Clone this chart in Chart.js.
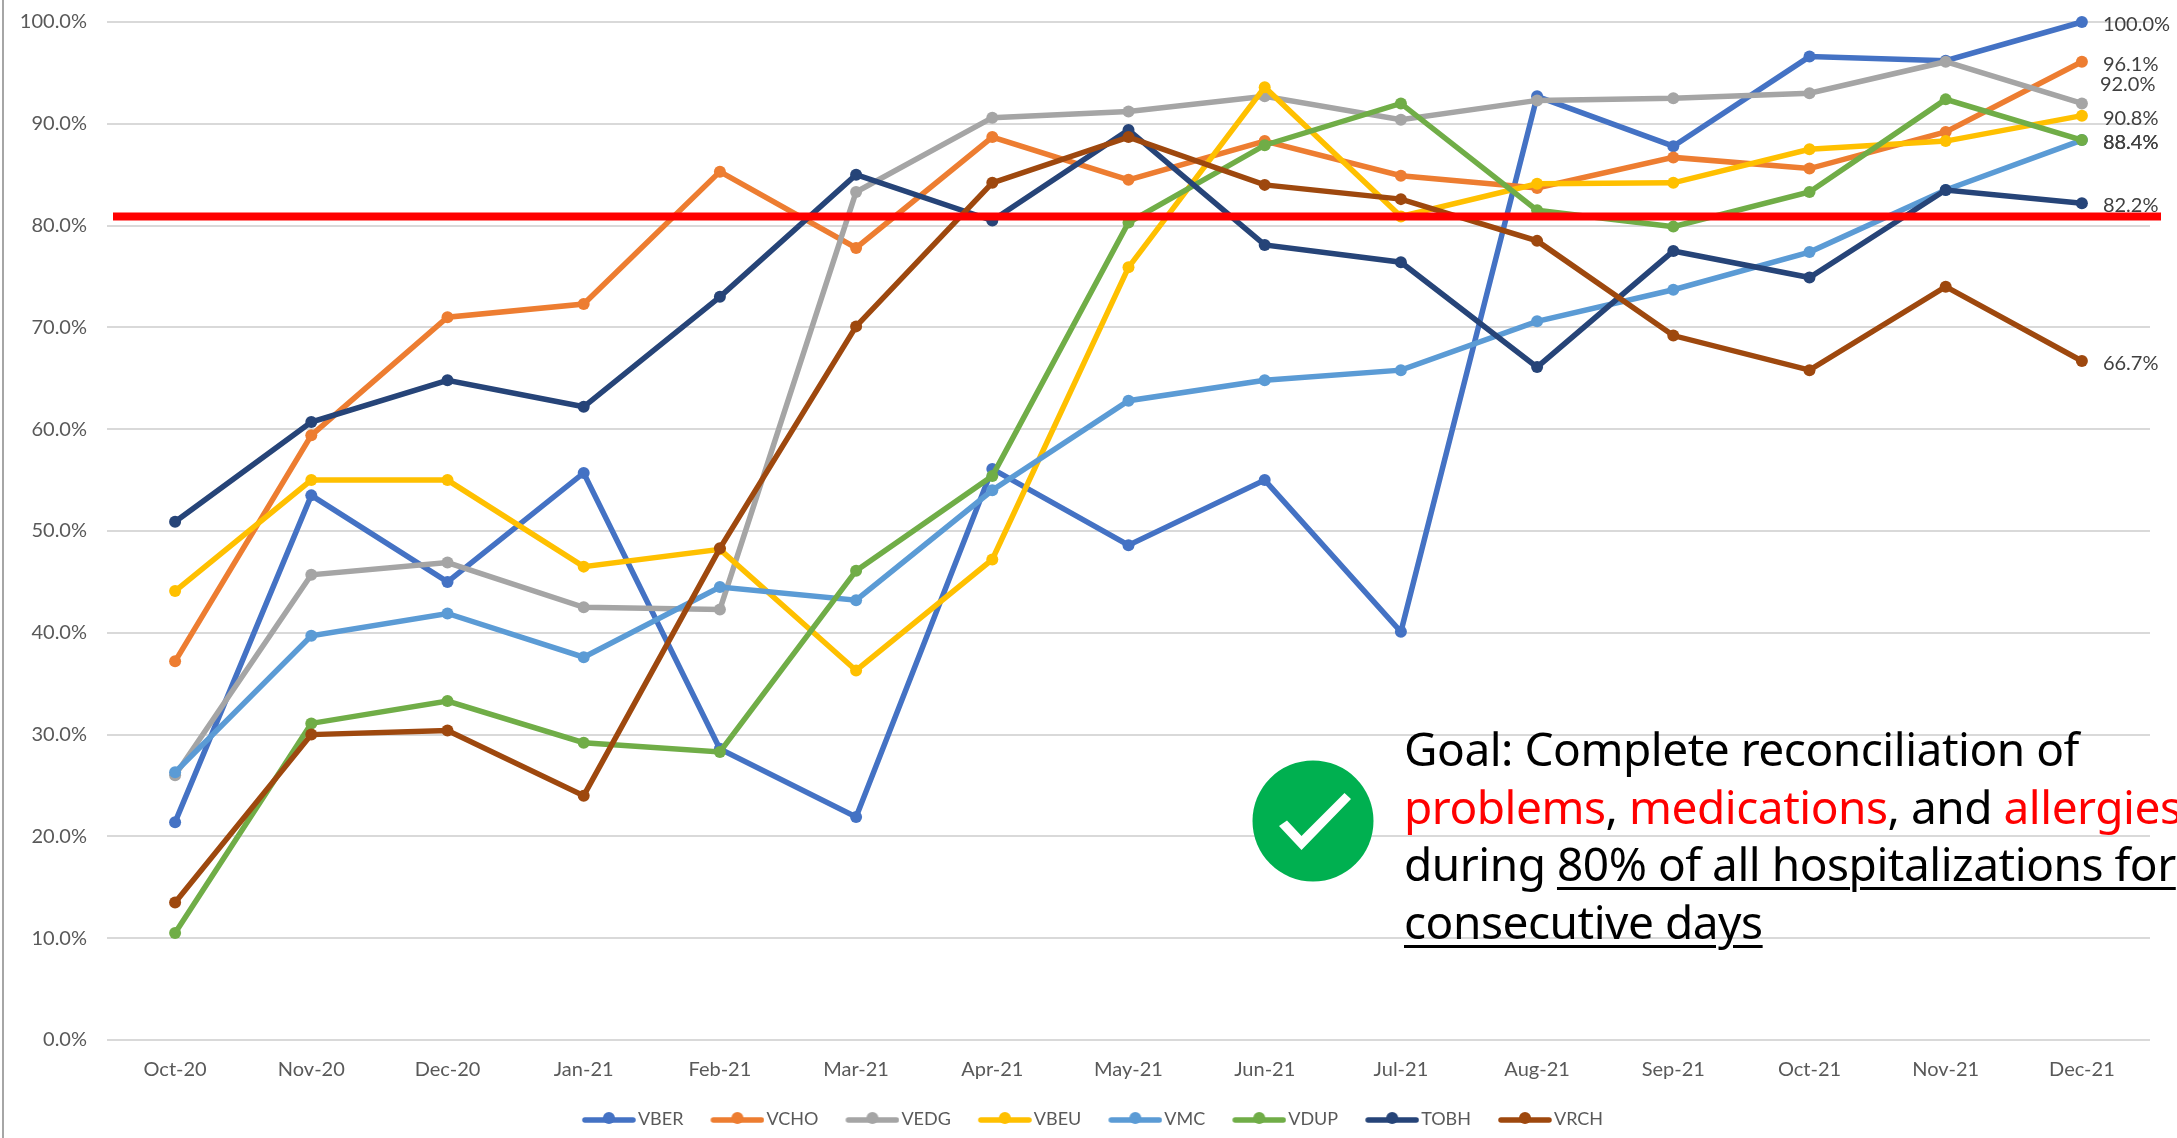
<!DOCTYPE html>
<html>
<head>
<meta charset="utf-8">
<script src="https://cdn.jsdelivr.net/npm/chart.js@4"></script>
<style>
html,body{margin:0;padding:0;background:#fff;width:2177px;height:1138px;overflow:hidden}
#wrap{position:relative;width:2177px;height:1138px;overflow:hidden}
#edge{position:absolute;left:2px;top:0;width:2px;height:1138px;background:#a6a6a6}
canvas{position:absolute;left:0;top:0}
#badge{position:absolute;left:1252px;top:760px}
#goal{position:absolute;left:1404px;top:720px;font:46px/57.6px "Noto Sans",sans-serif;letter-spacing:-0.47px;color:#000;white-space:nowrap}
#goal .r{color:#f00}
#goal .u{text-decoration:underline;text-decoration-thickness:3px;text-underline-offset:6px}
</style>
</head>
<body>
<div id="wrap">
<div id="edge"></div>
<canvas id="c" width="2177" height="1138"></canvas>
<svg id="badge" width="122" height="122" viewBox="0 0 122 122">
<circle cx="61" cy="61" r="60.5" fill="#00B050"/>
<polygon points="27,66 49.500,90 99,39 92.500,33 49.500,76 35,60.500" fill="#fff"/>
</svg>
<div id="goal">Goal: Complete reconciliation of<br><span class="r">problems</span>, <span class="r">medications</span>, and <span class="r">allergies</span><br>during <span class="u">80% of all hospitalizations for</span><br><span class="u">consecutive days</span></div>
</div>
<script>
const categories = ['Oct-20','Nov-20','Dec-20','Jan-21','Feb-21','Mar-21','Apr-21','May-21','Jun-21','Jul-21','Aug-21','Sep-21','Oct-21','Nov-21','Dec-21'];
const VBER = [21.4,53.5,45.0,55.7,28.6,21.9,56.1,48.6,55.0,40.1,92.7,87.8,96.6,96.2,100.0];
const VCHO = [37.2,59.4,71.0,72.3,85.3,77.8,88.7,84.5,88.3,84.9,83.7,86.7,85.6,89.2,96.1];
const VEDG = [26.0,45.7,46.9,42.5,42.3,83.3,90.6,91.2,92.7,90.4,92.3,92.5,93.0,96.1,92.0];
const VBEU = [44.1,55.0,55.0,46.5,48.2,36.3,47.2,75.9,93.6,80.9,84.1,84.2,87.5,88.3,90.8];
const VMC  = [26.3,39.7,41.9,37.6,44.5,43.2,54.0,62.8,64.8,65.8,70.6,73.7,77.4,83.5,88.4];
const VDUP = [10.5,31.1,33.3,29.2,28.3,46.1,55.4,80.3,87.9,92.0,81.5,79.9,83.3,92.4,88.4];
const TOBH = [50.9,60.7,64.8,62.2,73.0,85.0,80.5,89.4,78.1,76.4,66.1,77.5,74.9,83.5,82.2];
const VRCH = [13.5,30.0,30.4,24.0,48.3,70.1,84.2,88.7,84.0,82.6,78.5,69.2,65.8,74.0,66.7];
const seriesNames = ['VBER','VCHO','VEDG','VBEU','VMC','VDUP','TOBH','VRCH'];
const seriesValues = [VBER,VCHO,VEDG,VBEU,VMC,VDUP,TOBH,VRCH];
const seriesColors = ['#4472C4','#ED7D31','#A5A5A5','#FFC000','#5B9BD5','#70AD47','#264478','#9E480E'];
const goalValue = 80.9;
const FONT = 'Lato';

function legendSwatch(color){
  const c = document.createElement('canvas');
  c.width = 60; c.height = 16;
  const g = c.getContext('2d');
  g.strokeStyle = color; g.lineWidth = 5.5; g.lineCap = 'round';
  g.beginPath(); g.moveTo(9,9); g.lineTo(57,9); g.stroke();
  g.fillStyle = color;
  g.beginPath(); g.arc(33,7,6,0,Math.PI*2); g.fill();
  return c;
}

const overlays = {
  id:'overlays',
  afterLayout(chart){ chart.legend.left += 36; },
  afterDatasetsDraw(chart){
    const {ctx,chartArea,scales} = chart;
    ctx.save();
    ctx.font = '20px '+FONT;
    ctx.fillStyle = '#404040';
    ctx.textBaseline = 'middle';
    ctx.textAlign = 'left';
    seriesValues.forEach((vals,i)=>{
      const last = vals.length-1;
      const x = scales.x.getPixelForValue(last);
      const y = scales.y.getPixelForValue(vals[last]);
      const crowded = seriesNames[i]==='VEDG';
      ctx.fillText(vals[last].toFixed(1)+'%', x+(crowded?18:21), y+(crowded?-18.5:2.5));
    });
    const gy = scales.y.getPixelForValue(goalValue);
    ctx.strokeStyle = '#FF0000';
    ctx.lineWidth = 8;
    ctx.beginPath();
    ctx.moveTo(chartArea.left+6,gy);
    ctx.lineTo(chartArea.right+11,gy);
    ctx.stroke();
    ctx.restore();
  }
};

new Chart(document.getElementById('c'),{
  type:'line',
  data:{
    labels:categories,
    datasets:seriesNames.map((name,i)=>({
      label:name,
      data:seriesValues[i],
      borderColor:seriesColors[i],
      backgroundColor:seriesColors[i],
      borderWidth:5.5,
      pointRadius:6,
      pointHoverRadius:6,
      pointBorderWidth:0,
      tension:0,
      fill:false,
      clip:false,
      order:seriesNames.length-i,
      pointStyle:'circle'
    }))
  },
  options:{
    responsive:false,
    animation:false,
    layout:{padding:{left:0,right:27,top:22,bottom:0}},
    plugins:{
      tooltip:{enabled:false},
      legend:{
        position:'bottom',
        labels:{
          usePointStyle:true,
          pointStyleWidth:46,
          padding:28,
          color:'#595959',
          font:{family:FONT,size:18},
          generateLabels(chart){
            return chart.data.datasets.map((d,i)=>({
              text:d.label,
              datasetIndex:i,
              fontColor:'#595959',
              pointStyle:legendSwatch(seriesColors[i]),
              lineWidth:0,
              strokeStyle:'transparent',
              fillStyle:'transparent'
            }));
          }
        }
      }
    },
    scales:{
      x:{
        offset:true,
        afterFit(s){s.height=42;},
        grid:{display:false,drawTicks:false},
        border:{display:false},
        ticks:{color:'#595959',font:{family:FONT,size:20},padding:18,maxRotation:0,autoSkip:false}
      },
      y:{
        min:0,max:100,
        afterFit(s){s.width=107;s.paddingTop=0;s.paddingBottom=0;},
        grid:{color:'#D9D9D9',lineWidth:2,drawTicks:false},
        border:{display:false},
        ticks:{stepSize:10,color:'#595959',font:{family:FONT,size:20},padding:20,callback:v=>v.toFixed(1)+'%'}
      }
    }
  },
  plugins:[overlays]
});
</script>
</body>
</html>
